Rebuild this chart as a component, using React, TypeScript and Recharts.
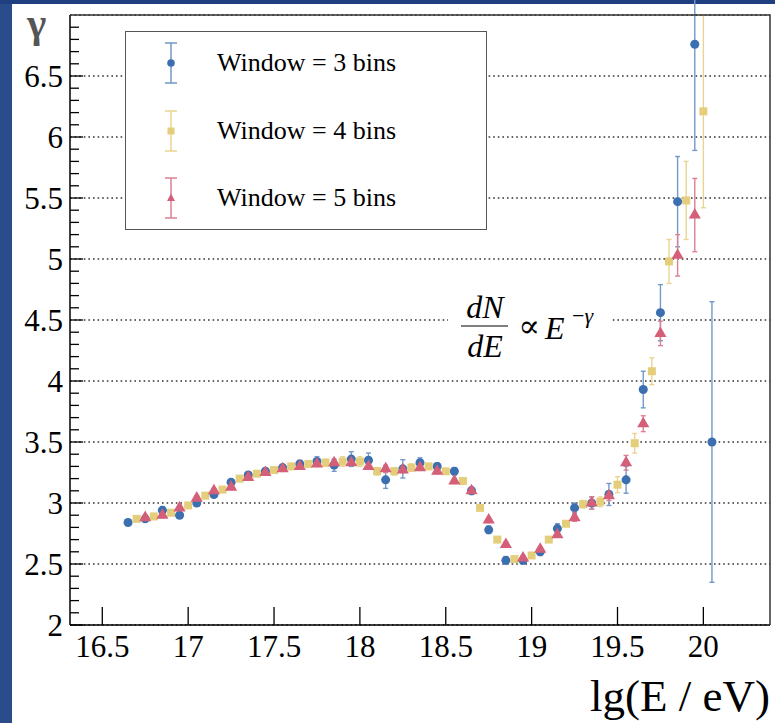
import { CartesianGrid, ErrorBar, Scatter, ScatterChart, XAxis, YAxis, ZAxis } from "recharts";

const W = 775;
const H = 723;
const xMin = 16.312;
const xMax = 20.388;
const yMin = 2;
const yMax = 7;
const serif = "Liberation Serif, Times New Roman, serif";

// plot box (page px), shared by chart margins and the frame
const plotLeft = 70;
const plotTop = 15;
const plotRight = 770;
const plotBottom = 625;

// window = 3 bins
const win3X = [16.65, 16.75, 16.85, 16.95, 17.05, 17.15, 17.25, 17.35, 17.45, 17.55, 17.65, 17.75, 17.85, 17.95, 18.05, 18.15, 18.25, 18.35, 18.45, 18.55, 18.65, 18.75, 18.85, 18.95, 19.05, 19.15, 19.25, 19.35, 19.45, 19.55, 19.65, 19.75, 19.85, 19.95, 20.05];
const win3Y = [2.84, 2.87, 2.94, 2.9, 3.0, 3.07, 3.17, 3.23, 3.26, 3.29, 3.32, 3.34, 3.31, 3.36, 3.35, 3.19, 3.28, 3.33, 3.3, 3.26, 3.1, 2.78, 2.53, 2.53, 2.6, 2.79, 2.96, 3.0, 3.07, 3.19, 3.93, 4.56, 5.47, 6.76, 3.5];
const win3Err = [0.02, 0.02, 0.03, 0.02, 0.02, 0.02, 0.02, 0.02, 0.02, 0.02, 0.03, 0.04, 0.05, 0.06, 0.06, 0.07, 0.075, 0.04, 0.03, 0.03, 0.03, 0.03, 0.03, 0.03, 0.03, 0.04, 0.04, 0.05, 0.09, 0.11, 0.15, 0.23, 0.37, 0.87, 1.15];

// window = 4 bins
const win4X = [16.7, 16.8, 16.9, 17.0, 17.1, 17.2, 17.3, 17.4, 17.5, 17.6, 17.7, 17.8, 17.9, 18.0, 18.1, 18.2, 18.3, 18.4, 18.5, 18.6, 18.7, 18.8, 18.9, 19.0, 19.1, 19.2, 19.3, 19.4, 19.5, 19.6, 19.7, 19.8, 19.9, 20.0];
const win4Y = [2.87, 2.89, 2.92, 2.98, 3.06, 3.11, 3.2, 3.24, 3.27, 3.3, 3.32, 3.33, 3.34, 3.34, 3.26, 3.26, 3.29, 3.3, 3.26, 3.18, 2.96, 2.7, 2.54, 2.57, 2.7, 2.83, 2.99, 3.01, 3.15, 3.49, 4.08, 4.98, 5.48, 6.21];
const win4Err = [0.02, 0.02, 0.02, 0.02, 0.02, 0.02, 0.02, 0.02, 0.02, 0.02, 0.02, 0.03, 0.04, 0.04, 0.03, 0.03, 0.03, 0.02, 0.02, 0.02, 0.02, 0.02, 0.02, 0.02, 0.02, 0.02, 0.03, 0.04, 0.065, 0.08, 0.11, 0.18, 0.32, 0.79];

// window = 5 bins
const win5X = [16.75, 16.85, 16.95, 17.05, 17.15, 17.25, 17.35, 17.45, 17.55, 17.65, 17.75, 17.85, 17.95, 18.05, 18.15, 18.25, 18.35, 18.45, 18.55, 18.65, 18.75, 18.85, 18.95, 19.05, 19.15, 19.25, 19.35, 19.45, 19.55, 19.65, 19.75, 19.85, 19.95];
const win5Y = [2.88, 2.9, 2.96, 3.04, 3.1, 3.13, 3.21, 3.25, 3.28, 3.3, 3.32, 3.33, 3.33, 3.3, 3.28, 3.27, 3.29, 3.26, 3.18, 3.1, 2.86, 2.66, 2.55, 2.62, 2.74, 2.88, 3.0, 3.06, 3.33, 3.65, 4.39, 5.03, 5.36];
const win5Err = [0.02, 0.02, 0.02, 0.02, 0.02, 0.02, 0.02, 0.02, 0.02, 0.02, 0.02, 0.02, 0.02, 0.02, 0.03, 0.02, 0.02, 0.02, 0.02, 0.02, 0.02, 0.02, 0.02, 0.02, 0.02, 0.03, 0.05, 0.04, 0.06, 0.065, 0.1, 0.17, 0.3];

const xMajorTicks = [16.5, 17, 17.5, 18, 18.5, 19, 19.5, 20];
const xMinorTicks = [16.4, 16.6, 16.7, 16.8, 16.9, 17.1, 17.2, 17.3, 17.4, 17.6, 17.7, 17.8, 17.9, 18.1, 18.2, 18.3, 18.4, 18.6, 18.7, 18.8, 18.9, 19.1, 19.2, 19.3, 19.4, 19.6, 19.7, 19.8, 19.9, 20.1, 20.2, 20.3];
const yMajorTicks = [2, 2.5, 3, 3.5, 4, 4.5, 5, 5.5, 6, 6.5];
const yMinorTicks = [2.1, 2.2, 2.3, 2.4, 2.6, 2.7, 2.8, 2.9, 3.1, 3.2, 3.3, 3.4, 3.6, 3.7, 3.8, 3.9, 4.1, 4.2, 4.3, 4.4, 4.6, 4.7, 4.8, 4.9, 5.1, 5.2, 5.3, 5.4, 5.6, 5.7, 5.8, 5.9, 6.1, 6.2, 6.3, 6.4, 6.6, 6.7, 6.8, 6.9];

const series = [
  { id: "w3", name: "Window = 3 bins", xs: win3X, ys: win3Y, errs: win3Err, color: "#3b6fb0", errColor: "#7299c9", shape: "circle", size: 66 },
  { id: "w4", name: "Window = 4 bins", xs: win4X, ys: win4Y, errs: win4Err, color: "#e4cd7b", errColor: "#e9d592", shape: "square", size: 70 },
  { id: "w5", name: "Window = 5 bins", xs: win5X, ys: win5Y, errs: win5Err, color: "#d45f78", errColor: "#dc8093", shape: "triangle", size: 58 },
];

// minor axes only draw tick lines
const noLabel = () => <g />;

function LegendMark({ s }: { s: (typeof series)[number] }) {
  return (
    <svg width={20} height={44} style={{ display: "block" }}>
      <line x1={10} x2={10} y1={2} y2={42} stroke={s.errColor} strokeWidth={1.5} />
      <line x1={4} x2={16} y1={2} y2={2} stroke={s.errColor} strokeWidth={1.5} />
      <line x1={4} x2={16} y1={42} y2={42} stroke={s.errColor} strokeWidth={1.5} />
      {s.shape === "circle" && <circle cx={10} cy={22} r={3.8} fill={s.color} />}
      {s.shape === "square" && <rect x={6.5} y={18.5} width={7} height={7} fill={s.color} />}
      {s.shape === "triangle" && <path d="M10 17.5 L14 25 L6 25 Z" fill={s.color} />}
    </svg>
  );
}

export default function App() {
  return (
    <div style={{ position: "absolute", left: 0, top: 0, width: W, height: H, background: "#fff", overflow: "hidden", fontFamily: serif }}>
      <div style={{ position: "absolute", left: 0, top: 0, width: 12, height: H, background: "#2b4c8b" }} />
      <div style={{ position: "absolute", left: 0, top: 0, width: W, height: 4, background: "#1f3f80" }} />

      <div style={{ position: "absolute", left: 0, top: 0 }}>
        <ScatterChart width={W} height={H} margin={{ top: plotTop, right: W - plotRight, bottom: 0, left: plotLeft - 60 }}>
          <CartesianGrid xAxisId="main" yAxisId="main" vertical={false} stroke="#333" strokeWidth={1.3} strokeDasharray="1.6 3" />
          <XAxis xAxisId="minor" type="number" domain={[xMin, xMax]} allowDataOverflow ticks={xMinorTicks} interval={0} tick={noLabel} tickSize={10} mirror height={1} axisLine={false} tickLine={{ stroke: "#000", strokeWidth: 1.3 }} />
          <XAxis xAxisId="main" dataKey="x" type="number" domain={[xMin, xMax]} allowDataOverflow ticks={xMajorTicks} interval={0} height={H - plotBottom} tickSize={-18} tickMargin={28} axisLine={{ stroke: "#000", strokeWidth: 1.5 }} tickLine={{ stroke: "#000", strokeWidth: 1.3 }} tick={{ fill: "#000", fontSize: 31, fontFamily: serif }} />
          <YAxis yAxisId="minor" type="number" domain={[yMin, yMax]} allowDataOverflow ticks={yMinorTicks} interval={0} tick={noLabel} tickSize={9} mirror width={1} axisLine={false} tickLine={{ stroke: "#000", strokeWidth: 1.3 }} />
          <YAxis yAxisId="main" dataKey="y" type="number" domain={[yMin, yMax]} allowDataOverflow ticks={yMajorTicks} interval={0} width={60} tickSize={-13} tickMargin={20} axisLine={{ stroke: "#000", strokeWidth: 1.5 }} tickLine={{ stroke: "#000", strokeWidth: 1.3 }} tick={{ fill: "#000", fontSize: 31, fontFamily: serif }} />
          {series.map((s) => (
            <ZAxis key={s.id} zAxisId={s.id} range={[s.size, s.size]} />
          ))}
          {series.map((s) => (
            <Scatter
              key={s.id}
              name={s.name}
              xAxisId="main"
              yAxisId="main"
              zAxisId={s.id}
              data={s.xs.map((x, i) => ({ x, y: s.ys[i], err: s.errs[i] }))}
              fill={s.color}
              shape={s.shape as any}
              isAnimationActive={false}
            >
              <ErrorBar dataKey="err" direction="y" width={2.5} stroke={s.errColor} strokeWidth={1.4} />
            </Scatter>
          ))}
        </ScatterChart>
      </div>

      {/* legend box */}
      <div style={{ position: "absolute", left: 125, top: 31, width: 362, height: 199, boxSizing: "border-box", border: "1.5px solid #555", background: "#fff" }}>
        {series.map((s, i) => (
          <div key={s.id} style={{ position: "absolute", left: 35, top: 9 + i * 67.5, height: 44, display: "flex", alignItems: "center" }}>
            <LegendMark s={s} />
            <span style={{ marginLeft: 36, fontSize: 26, color: "#000", whiteSpace: "nowrap", fontFamily: "Liberation Serif", lineHeight: "30px" }}>{s.name}</span>
          </div>
        ))}
      </div>

      {/* frame, axis titles and formula */}
      <svg width={W} height={H} style={{ position: "absolute", left: 0, top: 0, pointerEvents: "none" }}>
        <polyline points={`${plotLeft},${plotTop} ${plotRight},${plotTop} ${plotRight},${plotBottom}`} fill="none" stroke="#333" strokeWidth={1.5} />
        <text x={27} y={37} fontSize={41} fontWeight="bold" fill="#555" fontFamily="Liberation Serif">γ</text>
        <text x={770} y={711} fontSize={45} textAnchor="end" fill="#000" fontFamily="Liberation Serif">lg(E / eV)</text>
        <rect x={448} y={290} width={162} height={76} fill="#fff" />
        <text x={485} y={318} fontSize={32} fontStyle="italic" textAnchor="middle" fontFamily="Liberation Serif">dN</text>
        <line x1={461} x2={508} y1={326} y2={326} stroke="#000" strokeWidth={1.2} />
        <text x={485} y={357} fontSize={32} fontStyle="italic" textAnchor="middle" fontFamily="Liberation Serif">dE</text>
        <text x={529} y={337} fontSize={32} textAnchor="middle" fontFamily="DejaVu Serif">∝</text>
        <text x={545} y={339} fontSize={32} fontStyle="italic" fontFamily="Liberation Serif">E</text>
        <text x={572} y={323} fontSize={22} fontFamily="Liberation Serif">−<tspan fontStyle="italic">γ</tspan></text>
      </svg>
    </div>
  );
}
